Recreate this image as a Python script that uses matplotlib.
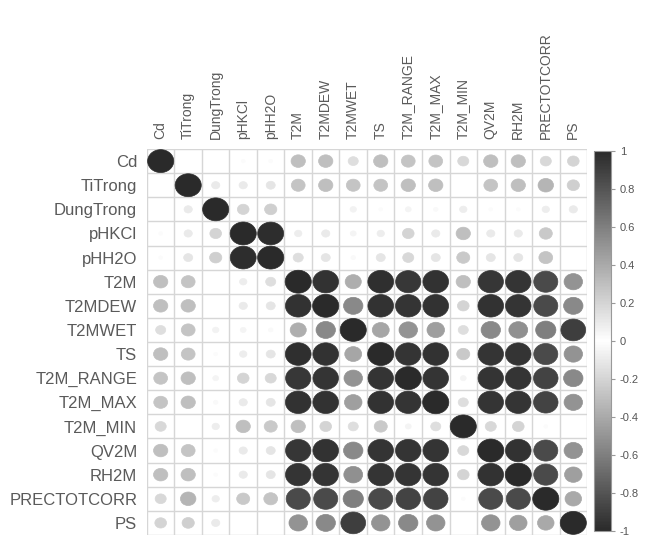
import numpy as np
import matplotlib
matplotlib.use('Agg')
import matplotlib.pyplot as plt
from matplotlib.patches import Ellipse
from matplotlib.colors import LinearSegmentedColormap, Normalize
from matplotlib.cm import ScalarMappable

plt.rcParams['font.family'] = ['Liberation Sans', 'DejaVu Sans']

variables = ['Cd', 'TiTrong', 'DungTrong', 'pHKCl', 'pHH2O', 'T2M', 'T2MDEW', 'T2MWET',
             'TS', 'T2M_RANGE', 'T2M_MAX', 'T2M_MIN', 'QV2M', 'RH2M', 'PRECTOTCORR', 'PS']

# correlation matrix (rows in the order of variables)
corr = [
    [1.00, 0.00, 0.00, 0.02, 0.02, 0.30, 0.30, 0.15, 0.30, 0.28, 0.28, 0.18, 0.30, 0.30, 0.18, 0.20],
    [0.00, 1.00, 0.10, 0.10, 0.12, 0.28, 0.30, 0.28, 0.28, 0.30, 0.30, 0.00, 0.28, 0.30, 0.35, 0.22],
    [0.00, 0.10, 1.00, 0.20, 0.22, 0.00, 0.00, 0.06, 0.02, 0.05, 0.03, 0.08, 0.02, 0.02, 0.08, 0.10],
    [0.02, 0.10, 0.20, 1.00, 0.98, 0.08, 0.10, 0.05, 0.08, 0.20, 0.10, 0.30, 0.10, 0.10, 0.25, 0.00],
    [0.02, 0.12, 0.22, 0.98, 1.00, 0.15, 0.12, 0.03, 0.12, 0.18, 0.12, 0.25, 0.12, 0.12, 0.28, 0.00],
    [0.30, 0.28, 0.00, 0.08, 0.15, 1.00, 0.96, 0.38, 0.97, 0.93, 0.96, 0.30, 0.94, 0.95, 0.85, 0.50],
    [0.30, 0.30, 0.00, 0.10, 0.12, 0.96, 1.00, 0.55, 0.96, 0.95, 0.96, 0.20, 0.96, 0.95, 0.85, 0.55],
    [0.15, 0.28, 0.06, 0.05, 0.03, 0.38, 0.55, 1.00, 0.42, 0.50, 0.45, 0.15, 0.55, 0.52, 0.60, 0.90],
    [0.30, 0.28, 0.02, 0.08, 0.12, 0.97, 0.96, 0.42, 1.00, 0.95, 0.96, 0.25, 0.95, 0.95, 0.85, 0.50],
    [0.28, 0.30, 0.05, 0.20, 0.18, 0.93, 0.95, 0.50, 0.95, 1.00, 0.95, 0.05, 0.95, 0.95, 0.88, 0.55],
    [0.28, 0.30, 0.03, 0.10, 0.12, 0.96, 0.96, 0.45, 0.96, 0.95, 1.00, 0.15, 0.95, 0.95, 0.88, 0.50],
    [0.18, 0.00, 0.08, 0.30, 0.25, 0.30, 0.20, 0.15, 0.25, 0.05, 0.15, 1.00, 0.18, 0.20, 0.02, 0.00],
    [0.30, 0.28, 0.02, 0.10, 0.12, 0.94, 0.96, 0.55, 0.95, 0.95, 0.95, 0.18, 1.00, 0.96, 0.85, 0.50],
    [0.30, 0.30, 0.02, 0.10, 0.12, 0.95, 0.95, 0.52, 0.95, 0.95, 0.95, 0.20, 0.96, 1.00, 0.85, 0.45],
    [0.18, 0.35, 0.08, 0.25, 0.28, 0.85, 0.85, 0.60, 0.85, 0.88, 0.88, 0.02, 0.85, 0.85, 1.00, 0.40],
    [0.20, 0.22, 0.10, 0.00, 0.00, 0.50, 0.55, 0.90, 0.50, 0.55, 0.50, 0.00, 0.50, 0.45, 0.40, 1.00],
]

cbar_ticks = [1, 0.8, 0.6, 0.4, 0.2, 0, -0.2, -0.4, -0.6, -0.8, -1]

cmap = LinearSegmentedColormap.from_list('grays', ['#2a2a2a', '#ffffff', '#2a2a2a'])
norm = Normalize(vmin=-1, vmax=1)

fig = plt.figure(figsize=(6.53, 5.42), dpi=100)
ax = fig.add_axes([0.225, 0.013, 0.674, 0.712])

n = len(variables)
mat = np.array(corr)
for i in range(n):
    for j in range(n):
        r = mat[i, j]
        d = 0.95 * np.sqrt(abs(r))
        if d <= 0:
            continue
        ax.add_patch(Ellipse((j + 0.5, i + 0.5), d, d, facecolor=cmap(norm(r)),
                             edgecolor=cmap(norm(r)), lw=0.5))

for k in range(n + 1):
    ax.axhline(k, color='#d6d6d6', lw=1, zorder=0)
    ax.axvline(k, color='#d6d6d6', lw=1, zorder=0)

ax.set_xlim(0, n)
ax.set_ylim(n, 0)
ax.set_xticks(np.arange(n) + 0.5)
ax.set_yticks(np.arange(n) + 0.5)
ax.xaxis.tick_top()
ax.set_xticklabels(variables, rotation=90, fontsize=10, color='#5a5a5a')
ax.set_yticklabels(variables, fontsize=12, color='#5a5a5a')
ax.tick_params(length=0, pad=7)
for s in ax.spines.values():
    s.set_visible(False)

cax = fig.add_axes([0.9096, 0.02, 0.026, 0.702])
sm = ScalarMappable(norm=norm, cmap=cmap)
cb = fig.colorbar(sm, cax=cax, ticks=cbar_ticks)
cb.ax.set_yticklabels([f'{t:g}' for t in cbar_ticks], fontsize=8, color='#555555')
cb.ax.tick_params(length=3, color='#999999', width=0.8)
cb.outline.set_edgecolor('#999999')

fig.savefig('out.png', dpi=100)
